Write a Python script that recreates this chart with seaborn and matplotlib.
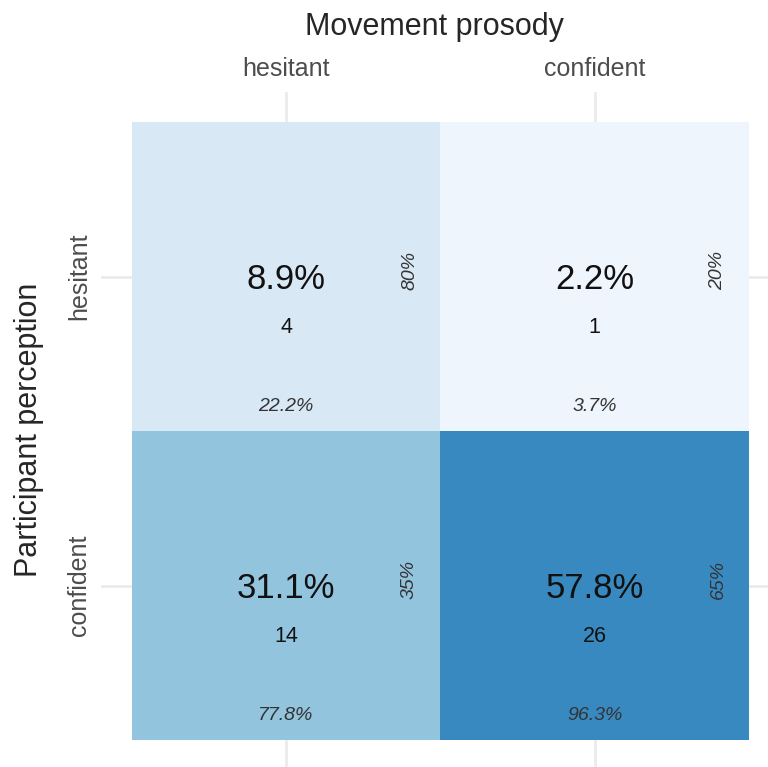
import numpy as np
import pandas as pd
import matplotlib
matplotlib.use("Agg")
import matplotlib.pyplot as plt
from matplotlib.colors import PowerNorm
import seaborn as sns

# confusion matrix values, rows = perception, cols = movement prosody
classes = ["hesitant", "confident"]
counts = [[4, 1],
          [14, 26]]
total_pct = [[8.9, 2.2],
             [31.1, 57.8]]
col_pct = [[22.2, 3.7],
           [77.8, 96.3]]
row_pct = [[80, 20],
           [35, 65]]

sns.set_style("white")
plt.rcParams["font.family"] = ["Liberation Sans", "DejaVu Sans"]

fig = plt.figure(figsize=(7.68, 7.67), dpi=100)
ax = fig.add_axes([101 / 768, 0.0, 1 - 101 / 768, 1 - 92 / 767])

df = pd.DataFrame(counts, index=classes, columns=classes)
sns.heatmap(df, cmap="Blues", norm=PowerNorm(gamma=0.79, vmin=0, vmax=44),
            cbar=False, ax=ax, linewidths=0, square=False)

ax.set_xlim(-0.1, 2.062)
ax.set_ylim(2.087, -0.097)
ax.grid(True, color="#ebebeb", linewidth=2)
ax.set_axisbelow(True)
for s in ax.spines.values():
    s.set_visible(False)

for i in range(2):
    for j in range(2):
        cx, cy = j + 0.5, i + 0.5
        ax.text(cx, cy + 0.01, f"{total_pct[i][j]}%", ha="center", va="center",
                fontsize=25, color="#111111")
        ax.text(cx, cy + 0.165, str(counts[i][j]), ha="center", va="center",
                fontsize=15.5, color="#111111")
        ax.text(cx, cy + 0.42, f"{col_pct[i][j]}%", ha="center", va="center",
                fontsize=14, style="italic", color="#333333")
        ax.text(cx + 0.4, cy - 0.02, f"{row_pct[i][j]}%", ha="center", va="center",
                fontsize=14, style="italic", rotation=90, color="#333333")

ax.xaxis.tick_top()
ax.xaxis.set_label_position("top")
ax.tick_params(axis="both", length=0, labelsize=18, labelcolor="#4d4d4d")
ax.tick_params(axis="x", pad=8)
ax.tick_params(axis="y", pad=7)
ax.set_xticklabels(classes, rotation=0)
ax.set_yticklabels(classes, rotation=90, va="center")
ax.set_xlabel("Movement prosody", fontsize=22, labelpad=16)
ax.set_ylabel("Participant perception", fontsize=22, labelpad=17)

fig.savefig("out.png", dpi=100)
